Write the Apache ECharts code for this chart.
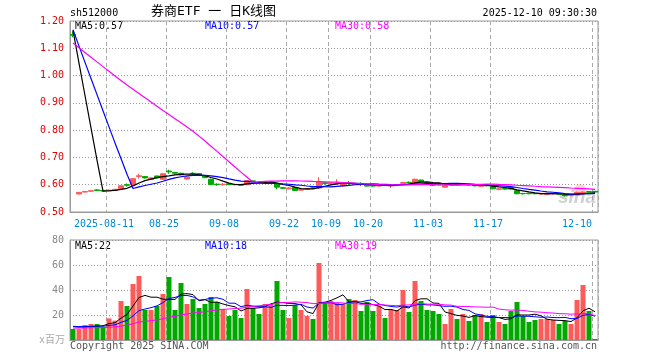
<!DOCTYPE html>
<html><head><meta charset="utf-8">
<script src="https://cdn.jsdelivr.net/npm/echarts@6/dist/echarts.min.js"></script>
<style>html,body{margin:0;padding:0;background:#fff}#c{width:660px;height:360px}</style>
</head><body><div id="c"></div>
<script>
const dates = [
'2025-08-01','2025-08-04','2025-08-05','2025-08-06','2025-08-07','2025-08-08','2025-08-11','2025-08-12','2025-08-13','2025-08-14','2025-08-15',
'2025-08-18','2025-08-19','2025-08-20','2025-08-21','2025-08-22','2025-08-25','2025-08-26','2025-08-27','2025-08-28','2025-08-29',
'2025-09-01','2025-09-02','2025-09-03','2025-09-04','2025-09-05','2025-09-08','2025-09-09','2025-09-10','2025-09-11','2025-09-12',
'2025-09-15','2025-09-16','2025-09-17','2025-09-18','2025-09-19','2025-09-22','2025-09-23','2025-09-24','2025-09-25','2025-09-26',
'2025-09-29','2025-09-30','2025-10-09','2025-10-10','2025-10-13','2025-10-14','2025-10-15','2025-10-16','2025-10-17','2025-10-20',
'2025-10-21','2025-10-22','2025-10-23','2025-10-24','2025-10-27','2025-10-28','2025-10-29','2025-10-30','2025-10-31','2025-11-03',
'2025-11-04','2025-11-05','2025-11-06','2025-11-07','2025-11-10','2025-11-11','2025-11-12','2025-11-13','2025-11-14','2025-11-17',
'2025-11-18','2025-11-19','2025-11-20','2025-11-21','2025-11-24','2025-11-25','2025-11-26','2025-11-27','2025-11-28','2025-12-01',
'2025-12-02','2025-12-03','2025-12-04','2025-12-05','2025-12-08','2025-12-09','2025-12-10'];

const tickDates = ['2025-08-11','2025-08-25','2025-09-08','2025-09-22','2025-10-09','2025-10-20','2025-11-03','2025-11-17','2025-12-10'];
const tickTexts = ['2025-08-11','08-25','09-08','09-22','10-09','10-20','11-03','11-17','12-10'];

const openP = [1.150,0.566,0.573,0.576,0.581,0.579,0.577,0.580,0.586,0.600,0.599,0.630,0.630,0.619,0.632,0.620,0.650,0.645,0.642,0.621,
0.642,0.641,0.632,0.620,0.602,0.600,0.603,0.601,0.601,0.600,0.614,0.610,0.606,0.606,0.605,0.589,0.585,0.590,0.580,0.583,
0.588,0.588,0.607,0.603,0.604,0.596,0.606,0.601,0.604,0.600,0.597,0.595,0.599,0.596,0.598,0.605,0.609,0.605,0.617,0.607,
0.604,0.601,0.591,0.599,0.603,0.600,0.601,0.599,0.594,0.599,0.593,0.583,0.586,0.590,0.578,0.568,0.569,0.568,0.566,0.564,
0.566,0.567,0.563,0.560,0.562,0.570,0.575,0.576];
const closeP = [1.148,0.572,0.575,0.578,0.579,0.577,0.580,0.583,0.596,0.598,0.622,0.633,0.625,0.625,0.625,0.640,0.647,0.642,0.636,0.628,
0.640,0.637,0.626,0.601,0.600,0.602,0.601,0.600,0.598,0.615,0.612,0.607,0.609,0.610,0.591,0.587,0.588,0.579,0.583,0.586,
0.587,0.612,0.604,0.607,0.607,0.604,0.604,0.604,0.601,0.595,0.595,0.599,0.597,0.599,0.600,0.608,0.607,0.620,0.611,0.605,
0.598,0.599,0.598,0.601,0.601,0.603,0.599,0.596,0.599,0.596,0.585,0.585,0.584,0.584,0.567,0.567,0.567,0.567,0.568,0.566,
0.568,0.565,0.559,0.563,0.572,0.573,0.572,0.573];
const lowP = [1.140,0.565,0.572,0.575,0.577,0.575,0.576,0.579,0.585,0.593,0.597,0.622,0.622,0.617,0.623,0.618,0.640,0.638,0.634,0.619,
0.636,0.635,0.624,0.598,0.596,0.597,0.599,0.598,0.597,0.599,0.608,0.605,0.604,0.604,0.583,0.584,0.583,0.577,0.578,0.581,
0.584,0.585,0.600,0.600,0.601,0.594,0.597,0.599,0.595,0.593,0.593,0.593,0.595,0.588,0.596,0.603,0.604,0.604,0.608,0.603,
0.595,0.597,0.589,0.597,0.599,0.598,0.597,0.594,0.593,0.594,0.583,0.580,0.582,0.582,0.565,0.564,0.565,0.565,0.564,0.561,
0.564,0.563,0.557,0.558,0.560,0.567,0.570,0.571];
const highP = [1.162,0.573,0.577,0.580,0.583,0.580,0.582,0.585,0.598,0.605,0.625,0.640,0.632,0.627,0.633,0.642,0.655,0.647,0.644,0.630,
0.646,0.643,0.634,0.622,0.605,0.606,0.605,0.603,0.602,0.617,0.617,0.612,0.611,0.612,0.607,0.592,0.591,0.591,0.586,0.588,
0.590,0.628,0.610,0.610,0.620,0.606,0.613,0.606,0.609,0.601,0.599,0.600,0.600,0.600,0.602,0.611,0.612,0.622,0.619,0.609,
0.606,0.603,0.600,0.604,0.605,0.605,0.602,0.600,0.601,0.600,0.595,0.588,0.588,0.591,0.580,0.570,0.571,0.570,0.570,0.568,
0.570,0.568,0.564,0.565,0.575,0.576,0.577,0.577];
const volumes = [8.8,8.8,12,12.8,12.8,10.7,17.3,15.5,31.2,27.2,44.8,51.2,24,24,27.2,36.8,50.4,24,45.6,28.8,
32.8,25.6,28.8,34.4,30.4,24.8,19.2,24,17.6,40.8,25.6,20.8,28.8,28.8,47.2,24,17.6,28,24,19.2,
16.8,61.6,29.6,31.2,29.6,28.8,32.8,32,23.2,30.4,23.2,27.2,17.6,24,24,40,22.4,47.2,31.2,24,
23.2,20.8,12.8,24.8,16.8,20.8,15.2,20,20.8,14.4,20,14.4,12.8,23.2,30.4,19.2,14.4,16,16.8,16.8,
16,12.8,15.2,12.8,32,44,23.2,0.8];
// closes / volumes of the 29 sessions before the first shown day (estimated from where the MA lines start)
const priorCloses = [1.095,1.095,1.095,1.095,1.095,1.095,1.095,1.095,1.095,1.095,1.095,1.095,1.095,1.095,1.095,1.095,1.095,1.095,1.095,1.095,
1.170,1.170,1.170,1.170,1.170,1.170,1.170,1.170,1.170];
const priorVolumes = [8.8,8.8,8.8,8.8,8.8,8.8,8.8,8.8,8.8,8.8,8.8,8.8,8.8,8.8,8.8,8.8,8.8,8.8,8.8,8.8,
11.2,11.2,11.2,11.2,11.2,11.2,11.2,11.2,11.2];

const RED = '#ff5a5a', GREEN = '#00a800';
const MONO = '"DejaVu Sans Mono","Noto Sans CJK SC",monospace';

function ma(prior, vals, n) {
  const all = prior.concat(vals);
  return vals.map(function (_, i) {
    const end = prior.length + i;
    let s = 0;
    for (let k = end - n + 1; k <= end; k++) s += all[k];
    return +(s / n).toFixed(4);
  });
}

const tickIdx = tickDates.map(function (d) { return dates.indexOf(d); });
const chart = echarts.init(document.getElementById('c'), null, {renderer: 'canvas'});
const isTickIdx = function (idx) { return tickIdx.indexOf(idx) >= 0; };
const lastDate = dates[dates.length - 1];
const vSplit = {show: true, interval: isTickIdx, lineStyle: {color: '#aaaaaa', width: 1, type: [4, 3]}};

function txt(x, y, text, fill, align, size) {
  return {type: 'text', x: x, y: y, silent: true,
    style: {text: text, fill: fill, font: (size || 10) + 'px ' + MONO, align: align || 'left', verticalAlign: 'middle'}};
}

const option = {
  animation: false,
  backgroundColor: '#fff',
  grid: [
    {left: 70, top: 21, width: 528, height: 191, show: true, borderColor: '#9a9a9a', borderWidth: 1},
    {left: 70, top: 240, width: 528, height: 100, show: true, borderColor: '#9a9a9a', borderWidth: 1}
  ],
  xAxis: [
    {type: 'category', gridIndex: 0, data: dates, boundaryGap: true,
      axisLine: {lineStyle: {color: '#9a9a9a'}}, axisTick: {show: false}, axisLabel: {show: false},
      splitLine: {show: true, interval: isTickIdx, lineStyle: {color: '#aaaaaa', width: 1, type: [4, 3]}}},
    {type: 'category', gridIndex: 1, data: dates, boundaryGap: true,
      axisLine: {lineStyle: {color: '#9a9a9a'}}, axisTick: {show: false}, axisLabel: {show: false},
      splitLine: {show: true, interval: isTickIdx, lineStyle: {color: '#aaaaaa', width: 1, type: [4, 3]}}},
    {type: 'category', gridIndex: 0, data: dates, boundaryGap: true, position: 'bottom',
      axisLine: {show: false}, axisTick: {show: false}, splitLine: {show: false},
      axisLabel: {interval: isTickIdx, margin: 7, color: '#0088d4', fontFamily: MONO, fontSize: 10,
        alignMaxLabel: 'right',
        formatter: function (v) {
          const k = tickDates.indexOf(v);
          if (k < 0) return '';
          return v === lastDate ? '{r|' + tickTexts[k] + '}' : '{n|' + tickTexts[k] + '}';
        },
        rich: {
          n: {padding: [0, 10, 0, 0], color: '#0088d4', fontFamily: MONO, fontSize: 10},
          r: {padding: [0, 3, 0, 0], color: '#0088d4', fontFamily: MONO, fontSize: 10}
        }}}
  ],
  yAxis: [
    {type: 'value', gridIndex: 0, min: 0.5, max: 1.2, interval: 0.1,
      axisLine: {show: true, lineStyle: {color: '#9a9a9a'}}, axisTick: {show: false},
      axisLabel: {color: '#e00000', fontFamily: MONO, fontSize: 10, margin: 6,
        formatter: function (v) { return v.toFixed(2); }},
      splitLine: {lineStyle: {color: '#999', type: [1, 2]}}},
    {type: 'value', gridIndex: 1, min: 0, max: 80, interval: 20,
      axisLine: {show: true, lineStyle: {color: '#9a9a9a'}}, axisTick: {show: false},
      axisLabel: {color: '#888', fontFamily: MONO, fontSize: 10, margin: 6,
        formatter: function (v) { return v === 0 ? '' : String(v); }},
      splitLine: {lineStyle: {color: '#999', type: [1, 2]}}}
  ],
  series: [
    {type: 'candlestick', xAxisIndex: 0, yAxisIndex: 0, barWidth: 5, z: 2,
      data: dates.map(function (d, i) { return [openP[i], closeP[i], lowP[i], highP[i]]; }),
      itemStyle: {color: RED, color0: GREEN, borderColor: RED, borderColor0: GREEN, borderWidth: 1}},
    {type: 'line', name: 'MA5', xAxisIndex: 0, yAxisIndex: 0, data: ma(priorCloses, closeP, 5),
      symbol: 'none', lineStyle: {color: '#000', width: 1.2}, z: 3},
    {type: 'line', name: 'MA10', xAxisIndex: 0, yAxisIndex: 0, data: ma(priorCloses, closeP, 10),
      symbol: 'none', lineStyle: {color: '#0000ff', width: 1.2}, z: 3},
    {type: 'line', name: 'MA30', xAxisIndex: 0, yAxisIndex: 0, data: ma(priorCloses, closeP, 30),
      symbol: 'none', lineStyle: {color: '#ff00ff', width: 1.2}, z: 3},
    {type: 'bar', xAxisIndex: 1, yAxisIndex: 1, barWidth: 5, z: 2,
      data: volumes.map(function (v, i) {
        return {value: v, itemStyle: {color: closeP[i] >= openP[i] ? RED : GREEN}};
      })},
    {type: 'line', name: 'VMA5', xAxisIndex: 1, yAxisIndex: 1, data: ma(priorVolumes, volumes, 5),
      symbol: 'none', lineStyle: {color: '#000', width: 1}, z: 3},
    {type: 'line', name: 'VMA10', xAxisIndex: 1, yAxisIndex: 1, data: ma(priorVolumes, volumes, 10),
      symbol: 'none', lineStyle: {color: '#0000ff', width: 1}, z: 3},
    {type: 'line', name: 'VMA30', xAxisIndex: 1, yAxisIndex: 1, data: ma(priorVolumes, volumes, 30),
      symbol: 'none', lineStyle: {color: '#ff00ff', width: 1}, z: 3}
  ],
  graphic: [
    txt(70, 13, 'sh512000', '#000', 'left', 10),
    txt(151, 12, '券商ETF 一 日K线图', '#000', 'left', 13),
    txt(597, 13, '2025-12-10 09:30:30', '#000', 'right', 10),
    txt(75, 26, 'MA5:0.57', '#000'),
    txt(205, 26, 'MA10:0.57', '#0000ff'),
    txt(335, 26, 'MA30:0.58', '#ff00ff'),
    txt(75, 246, 'MA5:22', '#000'),
    txt(205, 246, 'MA10:18', '#0000ff'),
    txt(335, 246, 'MA30:19', '#ff00ff'),
    txt(65, 340, 'x百万', '#aaa', 'right', 10),
    txt(70, 346, 'Copyright 2025 SINA.COM', '#555'),
    txt(597, 346, 'http://finance.sina.com.cn', '#555', 'right'),
    {type: 'circle', shape: {cx: 580, cy: 190, r: 6}, style: {fill: 'rgba(255,110,110,0.3)'}, silent: true, z: 1},
    {type: 'text', x: 596, y: 198, silent: true, z: 1,
      style: {text: 'sina', fill: 'rgba(150,150,150,0.45)', font: 'italic bold 19px "Liberation Sans",Arial', align: 'right', verticalAlign: 'middle'}}
  ]
};
chart.setOption(option);
</script>
</body></html>
